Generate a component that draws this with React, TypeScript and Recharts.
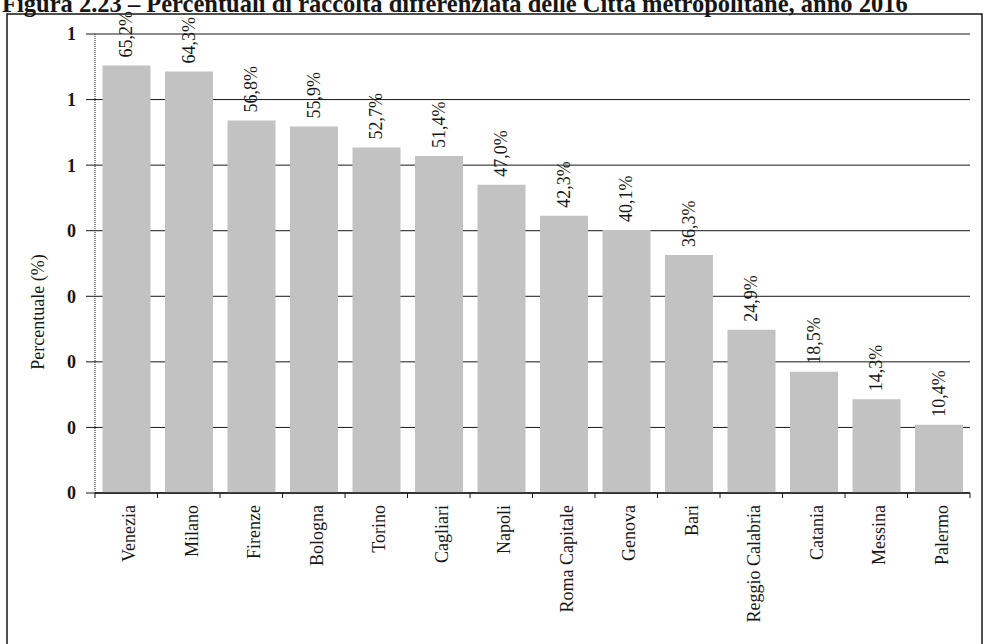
import { BarChart, Bar, XAxis, YAxis, CartesianGrid, LabelList, Label } from "recharts";

const CITIES = [
  "Venezia",
  "Milano",
  "Firenze",
  "Bologna",
  "Torino",
  "Cagliari",
  "Napoli",
  "Roma Capitale",
  "Genova",
  "Bari",
  "Reggio Calabria",
  "Catania",
  "Messina",
  "Palermo",
];

// share of separate waste collection, as a fraction
const SHARE = [0.652, 0.643, 0.568, 0.559, 0.527, 0.514, 0.47, 0.423, 0.401, 0.363, 0.249, 0.185, 0.143, 0.104];

const Y_TICKS = [0, 0.1, 0.2, 0.3, 0.4, 0.5, 0.6, 0.7];

const TITLE = "Figura 2.23 – Percentuali di raccolta differenziata delle Città metropolitane, anno 2016";

const data = CITIES.map((city, i) => ({ city, share: SHARE[i] }));

const W = 984;
const H = 644;
const AXIS_W = 95;
const RIGHT = 14;
const HALF_BAND = (W - AXIS_W - RIGHT) / CITIES.length / 2;
const SERIF = "'Liberation Serif', 'Times New Roman', serif";
const INK = "#161616";

const pct = (v: number) => (v * 100).toFixed(1).replace(".", ",") + "%";

function CityTick({ x, y, payload, index }: any) {
  const ty = y + 12;
  return (
    <g>
      <line x1={x - HALF_BAND} x2={x - HALF_BAND} y1={y} y2={y + 5} stroke={INK} />
      {index === CITIES.length - 1 && (
        <line x1={x + HALF_BAND} x2={x + HALF_BAND} y1={y} y2={y + 5} stroke={INK} />
      )}
      <text
        x={x + 3}
        y={ty}
        transform={`rotate(-90, ${x + 3}, ${ty})`}
        textAnchor="end"
        dominantBaseline="central"
        fontFamily={SERIF}
        fontSize={18}
        fill={INK}
      >
        {payload.value}
      </text>
    </g>
  );
}

function ValueLabel({ x, y, width, value }: any) {
  const cx = x + width / 2;
  const ty = y - 8;
  return (
    <text
      x={cx}
      y={ty}
      transform={`rotate(-90, ${cx}, ${ty})`}
      textAnchor="start"
      dominantBaseline="central"
      fontFamily={SERIF}
      fontSize={18}
      fill={INK}
    >
      {pct(value)}
    </text>
  );
}

export default function App() {
  return (
    <div style={{ position: "absolute", left: 0, top: 0, width: W, height: H, background: "#fff", overflow: "hidden" }}>
      <svg width={W} height={H} style={{ position: "absolute", left: 0, top: 0 }}>
        <text x={2} y={12} fontFamily={SERIF} fontWeight={700} fontSize={24.5} fill={INK}>
          {TITLE}
        </text>
        <rect x={7} y={14} width={975} height={700} fill="none" stroke={INK} strokeWidth={1.5} />
      </svg>
      <div style={{ position: "absolute", left: 0, top: 0 }}>
        <BarChart
          width={W}
          height={H}
          data={data}
          margin={{ top: 34, right: RIGHT, left: 0, bottom: 0 }}
          barCategoryGap="12%"
        >
          <CartesianGrid vertical={false} stroke={INK} strokeWidth={1} horizontalValues={Y_TICKS} />
          <XAxis
            dataKey="city"
            interval={0}
            height={151}
            tickSize={0}
            tickMargin={0}
            tick={<CityTick />}
            axisLine={{ stroke: INK, strokeWidth: 1.5 }}
          />
          <YAxis
            width={AXIS_W}
            domain={[0, 0.7]}
            ticks={Y_TICKS}
            tickFormatter={(v: number) => String(Math.round(v))}
            tickSize={9}
            tickMargin={10}
            tickLine={{ stroke: INK }}
            axisLine={{ stroke: INK, strokeDasharray: "1 1" }}
            tick={{ fill: INK, fontSize: 18, fontWeight: 700, fontFamily: SERIF }}
          >
            <Label
              content={() => (
                <text
                  x={38}
                  y={312}
                  transform="rotate(-90, 38, 312)"
                  textAnchor="middle"
                  dominantBaseline="central"
                  fontFamily={SERIF}
                  fontSize={18}
                  fill={INK}
                >
                  Percentuale (%)
                </text>
              )}
            />
          </YAxis>
          <Bar dataKey="share" fill="#c2c2c2" isAnimationActive={false}>
            <LabelList dataKey="share" content={<ValueLabel />} />
          </Bar>
        </BarChart>
      </div>
    </div>
  );
}
